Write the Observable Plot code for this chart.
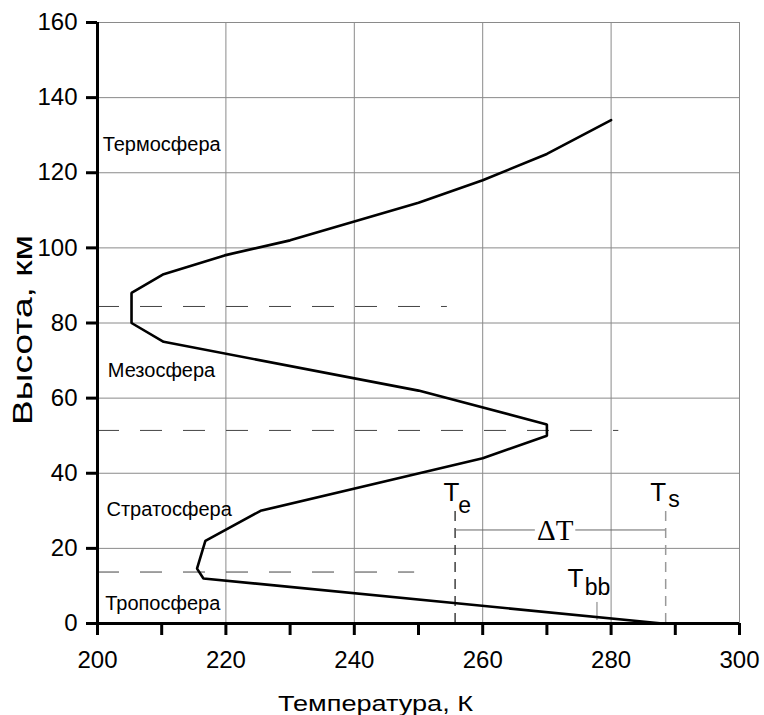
<!DOCTYPE html>
<html>
<head>
<meta charset="utf-8">
<script src="https://cdn.jsdelivr.net/npm/d3@7"></script>
<script src="https://cdn.jsdelivr.net/npm/@observablehq/plot@0.6"></script>
<style>
  html, body { margin: 0; padding: 0; background: #fff; }
</style>
</head>
<body>
<div id="chart"></div>
<script>
// Temperature profile of the atmosphere
const profileT = [288, 216.5, 215.5, 216.8, 225.4, 260, 270, 270, 250, 210.3, 205.3, 205.3, 210.3, 219.8, 230, 250, 260, 270, 280];
const profileH = [0, 12, 14.6, 22, 30, 44, 50, 53, 62, 75, 80, 88, 93, 98, 102, 112, 118, 125, 134];

// Axis ticks
const xTicks = [200, 210, 220, 230, 240, 250, 260, 270, 280, 290, 300];
const xLabeled = [200, 220, 240, 260, 280, 300];
const yTicks = [0, 20, 40, 60, 80, 100, 120, 140, 160];

// Layer boundaries (dashed)
const boundH = [13.7, 51.4, 84.4];
const boundEnd = [249.4, 281.2, 254.5];

// Layer names
const zoneNames = ["Термосфера", "Мезосфера", "Стратосфера", "Тропосфера"];
const zoneT = [200.8, 201.6, 201.4, 201.2];
const zoneH = [125.9, 65.5, 28.5, 3.7];

// Temperatures Te, Ts, Tbb
const Te = 255.7, Ts = 288.5, Tbb = 277.8;
const markTop = 30;          // top of dashed Te/Ts markers, km
const deltaH = 24.9;         // ΔT bracket height, km
const deltaSegs = [[255.7, 268.2], [274.5, 288.5]];

const mainLabels = ["T", "T", "T"];
const mainT = [253.9, 286.1, 273.2];
const mainH = [32.5, 32.7, 9.6];
const subLabels = ["e", "s", "bb"];
const subT = [256.2, 288.9, 275.9];
const subH = [29.3, 30.9, 7.7];

const xTitle = "Температура, К";
const yTitle = "Высота, км";

const profile = profileT.map((t, i) => ({t, h: profileH[i]}));
const bounds = boundH.map((h, i) => ({h, x2: boundEnd[i]}));
const zones = zoneNames.map((n, i) => ({n, t: zoneT[i], h: zoneH[i]}));
const mains = mainLabels.map((n, i) => ({n, t: mainT[i], h: mainH[i]}));
const subs = subLabels.map((n, i) => ({n, t: subT[i], h: subH[i]}));

const chart = Plot.plot({
  width: 764,
  height: 715,
  marginLeft: 97,
  marginRight: 25,
  marginTop: 22,
  marginBottom: 92,
  style: {fontFamily: "'Liberation Sans', Arial, sans-serif", background: "#fff", color: "#000"},
  x: {domain: [200, 300]},
  y: {domain: [0, 160]},
  marks: [
    Plot.gridX(xLabeled, {stroke: "#8a8a8a", strokeOpacity: 1, strokeWidth: 1}),
    Plot.gridY(yTicks, {stroke: "#8a8a8a", strokeOpacity: 1, strokeWidth: 1}),
    Plot.ruleY(bounds, {y: "h", x1: 200, x2: "x2", stroke: "#444", strokeWidth: 1, strokeDasharray: "22,21"}),
    Plot.ruleX([Te], {y1: 0, y2: markTop, stroke: "#222", strokeWidth: 1.3, strokeDasharray: "10,7"}),
    Plot.ruleX([Ts], {y1: 0, y2: markTop, stroke: "#999", strokeWidth: 1.5, strokeDasharray: "10,7"}),
    Plot.ruleX([Tbb], {y1: 0.8, y2: 5.6, stroke: "#777", strokeWidth: 1}),
    Plot.ruleY(deltaSegs, {y: () => deltaH, x1: d => d[0], x2: d => d[1], stroke: "#666", strokeWidth: 1}),
    Plot.line(profile, {x: "t", y: "h", stroke: "#000", strokeWidth: 2.6, strokeLinejoin: "miter"}),
    Plot.text(zones, {x: "t", y: "h", text: "n", textAnchor: "start", lineAnchor: "bottom", fontSize: 20, fill: "#000"}),
    Plot.text(mains, {x: "t", y: "h", text: "n", textAnchor: "start", lineAnchor: "bottom", fontSize: 26, fill: "#000"}),
    Plot.text(subs, {x: "t", y: "h", text: "n", textAnchor: "start", lineAnchor: "bottom", fontSize: 23, fill: "#000"}),
    Plot.text(["ΔT"], {x: 271.3, y: 22.1, text: d => d, textAnchor: "middle", lineAnchor: "bottom", fontSize: 29, fontFamily: "'Liberation Serif', 'Times New Roman', serif", fill: "#000"}),
    Plot.axisX({ticks: xTicks, tickSize: 12, tickPadding: 15, strokeWidth: 3, fontSize: 24, tickFormat: d => (d % 20 === 0 ? String(d) : ""), label: null}),
    Plot.axisY({ticks: yTicks, tickSize: 11, tickPadding: 9, strokeWidth: 3, fontSize: 24, tickFormat: d => String(d), label: null}),
    Plot.ruleX([200], {stroke: "#000", strokeWidth: 3}),
    Plot.ruleY([0], {stroke: "#000", strokeWidth: 3}),
    Plot.text([xTitle], {frameAnchor: "bottom", dx: -43, dy: 87, text: d => d, lineAnchor: "bottom", fontSize: 22, fill: "#000", className: "xtitle"}),
    Plot.text([yTitle], {frameAnchor: "left", dx: -74, dy: 102, rotate: -90, textAnchor: "start", text: d => d, fontSize: 28, fill: "#000", className: "ytitle"})
  ]
});
// widen the axis titles as in the reference
d3.select(chart).selectAll(".xtitle text").attr("textLength", 195).attr("lengthAdjust", "spacingAndGlyphs");
d3.select(chart).selectAll(".ytitle text").attr("textLength", 190).attr("lengthAdjust", "spacingAndGlyphs");
document.getElementById("chart").appendChild(chart);
</script>
</body>
</html>
